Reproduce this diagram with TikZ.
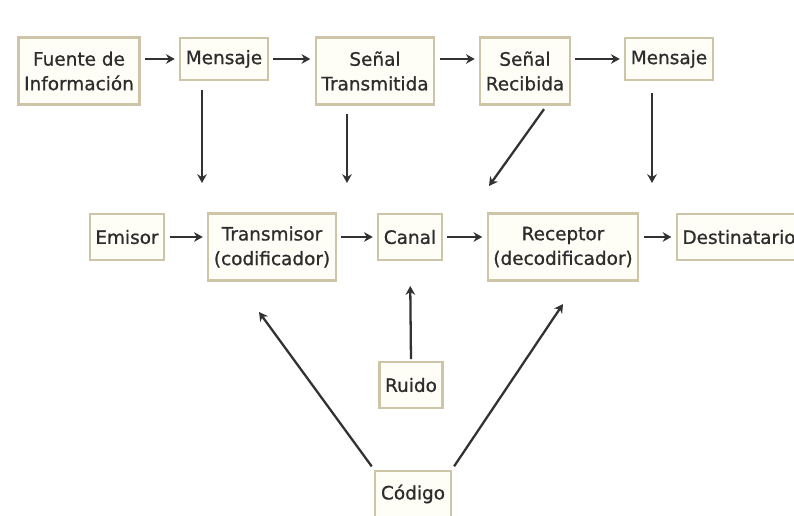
\documentclass[tikz,border=0pt]{standalone}
\usepackage{fontspec}
\setmainfont{DejaVu Sans}[FakeBold=0.9]
\usetikzlibrary{arrows.meta}

\definecolor{borde}{RGB}{206,196,168}
\definecolor{relleno}{RGB}{254,253,246}
\definecolor{trazo}{RGB}{50,50,50}
\definecolor{letra}{RGB}{45,45,45}

\tikzset{
  caja/.style={draw=borde, fill=relleno, line width=1.2pt, inner xsep=3.2pt,
    inner ysep=2pt, minimum height=0.92cm, align=center, text=letra,
    font=\fontsize{10.5}{14}\selectfont},
  doble/.style={minimum height=1.34cm},
  flecha/.style={trazo, line width=1.3pt, -{Stealth[length=5pt,width=5.5pt]},
    shorten <=2.5pt, shorten >=2.5pt},
}

\begin{document}
\begin{tikzpicture}[x=0.02cm,y=-0.02cm]
\useasboundingbox (0,0) rectangle (794,516);

% fila superior
\node[caja,doble] (fuente) at (79,71) {Fuente de\\Información};
\node[caja,minimum height=0.84cm] (msj1) at (224,59) {Mensaje};
\node[caja,doble] (transm) at (375,71) {Señal\\Transmitida};
\node[caja,doble] (recib) at (525,71) {Señal\\Recibida};
\node[caja,minimum height=0.84cm] (msj2) at (669,59) {Mensaje};

% fila central
\node[caja] (emisor) at (127,237) {Emisor};
\node[caja,doble] (codif) at (272,247) {Transmisor\\(codificador)};
\node[caja] (canal) at (410,237) {Canal};
\node[caja,doble] (decod) at (563,247) {Receptor\\(decodificador)};
\node[caja] (destino) at (739,237) {Destinatario};

% abajo
\node[caja] (ruido) at (411,385) {Ruido};
\node[caja] (codigo) at (413,494) {Código};

% puntas libres
\coordinate (p1) at (202,183);
\coordinate (p2) at (347,183);
\coordinate (p3) at (489,186);
\coordinate (p4) at (652,183);
\coordinate (q1) at (259,312);
\coordinate (q2) at (563,304);

\draw[flecha] (fuente.east |- msj1) -- (msj1.west);
\draw[flecha] (msj1.east) -- (transm.west |- msj1);
\draw[flecha] (transm.east |- msj1) -- (recib.west |- msj1);
\draw[flecha] (recib.east |- msj1) -- (msj2.west);

\draw[flecha, shorten <=5pt, shorten >=0pt] (msj1.south -| p1) -- (p1);
\draw[flecha, shorten <=5pt, shorten >=0pt] (transm.south -| p2) -- (p2);
\draw[flecha, shorten >=0pt] (recib.-58) -- (p3);
\draw[flecha, shorten <=7pt, shorten >=0pt] (msj2.south -| p4) -- (p4);

\draw[flecha] (emisor.east) -- (codif.west |- emisor);
\draw[flecha] (codif.east |- emisor) -- (canal.west);
\draw[flecha] (canal.east) -- (decod.west |- canal);
\draw[flecha] (decod.east |- canal) -- (destino.west);

\draw[flecha, shorten <=1pt, shorten >=0.5cm] (ruido.north) -- (canal.south);
\draw[flecha, shorten >=0pt] (codigo.north west) -- (q1);
\draw[flecha, shorten >=0pt] (codigo.north east) -- (q2);
\end{tikzpicture}
\end{document}
